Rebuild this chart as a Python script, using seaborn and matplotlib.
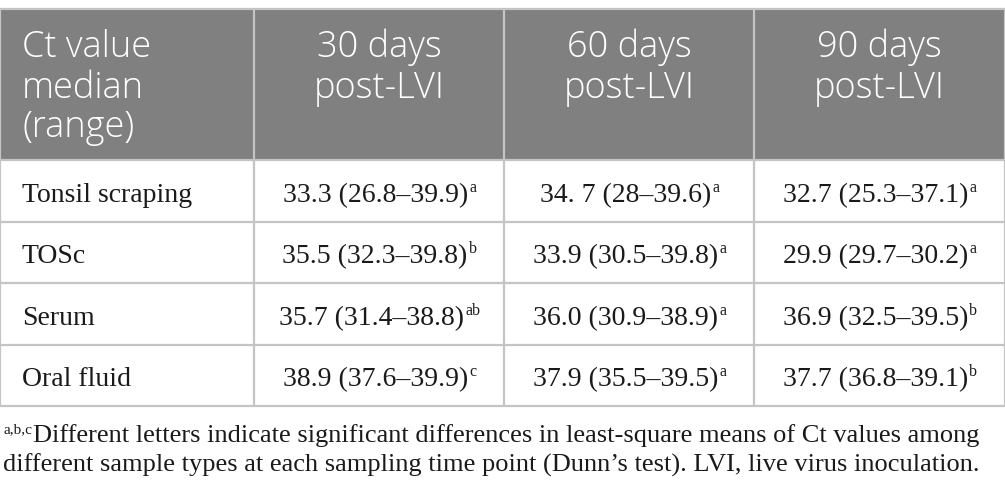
import numpy as np
import pandas as pd
import seaborn as sns
import matplotlib.pyplot as plt

sns.set_style("white")

# table content
header_first = "Ct value\nmedian\n(range)"
time_points = ["30 days\npost-LVI", "60 days\npost-LVI", "90 days\npost-LVI"]
sample_types = ["Tonsil scraping", "TOSc", "Serum", "Oral fluid"]
d30 = ["33.3 (26.8–39.9)", "35.5 (32.3–39.8)", "35.7 (31.4–38.8)", "38.9 (37.6–39.9)"]
d60 = ["34. 7 (28–39.6)", "33.9 (30.5–39.8)", "36.0 (30.9–38.9)", "37.9 (35.5–39.5)"]
d90 = ["32.7 (25.3–37.1)", "29.9 (29.7–30.2)", "36.9 (32.5–39.5)", "37.7 (36.8–39.1)"]
sup30 = ["a", "b", "ab", "c"]
sup60 = ["a", "a", "a", "a"]
sup90 = ["a", "a", "b", "b"]
foot_sup = "a,b,c"
foot_lines = ["Different letters indicate significant differences in least-square means of Ct values among",
              "different sample types at each sampling time point (Dunn’s test). LVI, live virus inoculation."]

df = pd.DataFrame({"sample": sample_types, "d30": d30, "d60": d60, "d90": d90,
                   "s30": sup30, "s60": sup60, "s90": sup90})

col_edges = [0, 254, 504, 754, 1005]
row_edges = [9, 160, 222, 283, 345, 406]
head_col = "#808080"
line_col = "#c4c4c4"
ink = "#1a1a1a"
serif = "Liberation Serif"
sans = "Open Sans"

fig = plt.figure(figsize=(10.05, 5.0), dpi=100)
ax = fig.add_axes([0, 0, 1, 1])
ax.set_xlim(0, 1005)
ax.set_ylim(500, 0)
ax.axis("off")

# header background
ax.fill_between([col_edges[0], col_edges[-1]], row_edges[0], row_edges[1], color=head_col, lw=0)

# grid lines
for y in row_edges:
    ax.plot([col_edges[0], col_edges[-1]], [y, y], color=line_col, lw=1.6, solid_capstyle="butt")
for x in col_edges:
    ax.plot([x, x], [row_edges[0], row_edges[-1]], color=line_col, lw=1.6, solid_capstyle="butt")

# header text, one line at a time
head_fs = 26
head_base = [57, 98, 137]
for k, line in enumerate(header_first.split("\n")):
    ax.text(22, head_base[k], line, color="white", fontsize=head_fs, family=sans,
            fontweight="light", va="baseline", ha="left")
for i, t in enumerate(time_points):
    cx = (col_edges[i + 1] + col_edges[i + 2]) / 2
    for k, line in enumerate(t.split("\n")):
        ax.text(cx, head_base[k], line, color="white", fontsize=head_fs, family=sans,
                fontweight="light", va="baseline", ha="center")

fig.canvas.draw()
rend = fig.canvas.get_renderer()


def width_px(txt):
    return txt.get_window_extent(renderer=rend).width


body_fs = 20
sup_fs = 11.5
for r, row in df.iterrows():
    y1 = row_edges[r + 2]
    base = y1 - 20
    ax.text(22, base, row["sample"], fontsize=body_fs, family=serif, va="baseline", ha="left",
            color=ink)
    for c, (vk, sk) in enumerate([("d30", "s30"), ("d60", "s60"), ("d90", "s90")]):
        cx = (col_edges[c + 1] + col_edges[c + 2]) / 2
        t = ax.text(0, base, row[vk], fontsize=body_fs, family=serif, va="baseline", ha="left",
                    color=ink)
        s = ax.text(0, base - 10, row[sk], fontsize=sup_fs, family=serif, va="baseline",
                    ha="left", color=ink)
        w1, w2 = width_px(t), width_px(s)
        left = cx - (w1 + w2) / 2
        t.set_x(left)
        s.set_x(left + w1 + 1)

# footnote
foot_fs = 19
s = ax.text(3, 433, foot_sup, fontsize=11, family=serif, va="baseline", ha="left", color=ink)
ax.text(3 + width_px(s) + 1, 442, foot_lines[0], fontsize=foot_fs, family=serif, va="baseline",
        ha="left", color=ink)
ax.text(3, 472, foot_lines[1], fontsize=foot_fs, family=serif, va="baseline", ha="left",
        color=ink)

fig.savefig("out.png", dpi=100, facecolor="white")
